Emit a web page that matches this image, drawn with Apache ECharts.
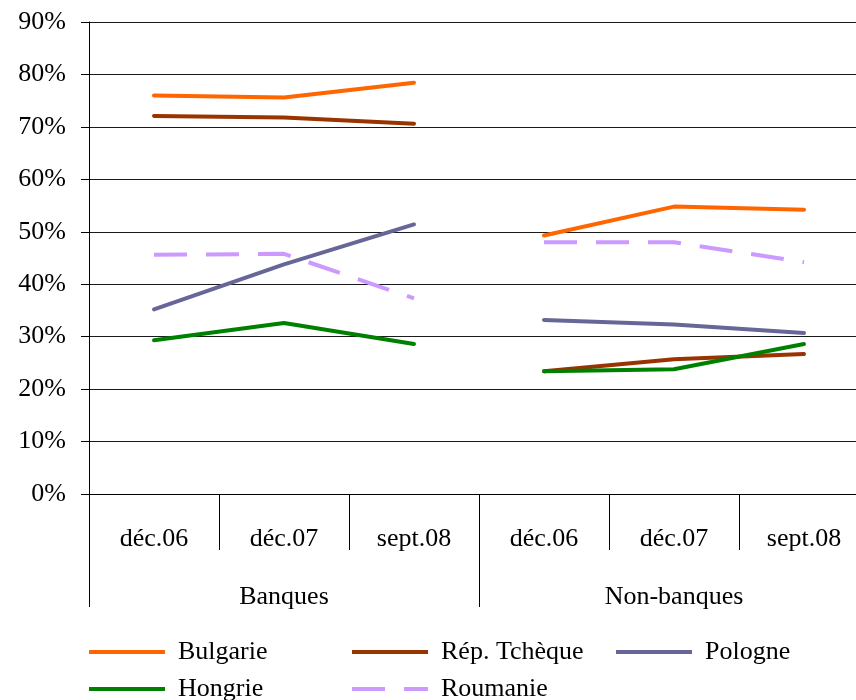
<!DOCTYPE html>
<html>
<head>
<meta charset="utf-8">
<script src="https://cdn.jsdelivr.net/npm/echarts@6/dist/echarts.min.js"></script>
<style>
  html, body { margin: 0; padding: 0; background: #fff; overflow: hidden; }
  #chart { width: 880px; height: 700px; }
</style>
</head>
<body>
<div id="chart"></div>
<script>
// Periods shown within each group, and the groups themselves
const periods = ['déc.06', 'déc.07', 'sept.08'];
const groups = ['Banques', 'Non-banques'];

// Share (%) per country: first three values = Banques, last three = Non-banques
const bulgarie = [76.0, 75.6, 78.4, 49.3, 54.8, 54.2];
const repTcheque = [72.1, 71.8, 70.6, 23.4, 25.7, 26.7];
const pologne = [35.2, 43.8, 51.4, 33.2, 32.3, 30.7];
const hongrie = [29.3, 32.6, 28.6, 23.4, 23.8, 28.6];
const roumanie = [45.6, 45.8, 37.3, 48.0, 48.0, 44.2];

const yTicks = [0, 10, 20, 30, 40, 50, 60, 70, 80, 90];

const countries = [
  { name: 'Bulgarie', values: bulgarie, color: '#FF6600', dashed: false },
  { name: 'Rép. Tchèque', values: repTcheque, color: '#993300', dashed: false },
  { name: 'Pologne', values: pologne, color: '#666699', dashed: false },
  { name: 'Hongrie', values: hongrie, color: '#008000', dashed: false },
  { name: 'Roumanie', values: roumanie, color: '#CC99FF', dashed: true }
];

const categories = groups.flatMap(() => periods);
const FONT = '"Liberation Serif", "Times New Roman", serif';
const FS = 26;

// Each country is drawn as two separate segments (one per group) so the line breaks between groups
const series = [];
countries.forEach(c => {
  groups.forEach((g, gi) => {
    const data = c.values.map((v, i) => (Math.floor(i / periods.length) === gi ? v : '-'));
    series.push({
      name: c.name,
      type: 'line',
      xAxisIndex: 0,
      data: data,
      symbol: 'none',
      connectNulls: false,
      silent: true,
      animation: false,
      lineStyle: {
        color: c.color,
        width: 4,
        type: c.dashed ? [33, 19] : 'solid',
        cap: c.dashed ? 'butt' : 'round',
        join: 'round'
      },
      itemStyle: { color: c.color }
    });
  });
});

const legendPos = [
  { left: 87, top: 639 },
  { left: 350, top: 639 },
  { left: 614, top: 639 },
  { left: 87, top: 676 },
  { left: 350, top: 676 }
];

const legends = countries.map((c, i) => ({
  data: [c.name],
  left: legendPos[i].left,
  top: legendPos[i].top,
  padding: 0,
  itemWidth: 76,
  itemHeight: 14,
  selectedMode: false,
  itemStyle: { opacity: 0 },
  lineStyle: { width: 4, cap: 'butt' },
  textStyle: {
    fontFamily: FONT,
    fontSize: FS,
    color: '#000',
    padding: [0, 0, 0, 8]
  }
}));

const chart = echarts.init(document.getElementById('chart'), null, { renderer: 'canvas' });
chart.setOption({
  animation: false,
  backgroundColor: '#fff',
  grid: { left: 89, right: 11, top: 22, bottom: 206 },
  legend: legends,
  xAxis: [
    {
      type: 'category',
      data: categories,
      position: 'bottom',
      boundaryGap: true,
      axisLine: { show: true, lineStyle: { color: '#000', width: 1 } },
      axisTick: { show: true, interval: 0, length: 56, lineStyle: { color: '#000', width: 1 } },
      axisLabel: { interval: 0, margin: 32, fontFamily: FONT, fontSize: FS, color: '#000' },
      splitLine: { show: false }
    },
    {
      type: 'category',
      data: groups,
      position: 'bottom',
      boundaryGap: true,
      axisLine: { show: false },
      axisTick: { show: true, interval: 0, length: 113, lineStyle: { color: '#000', width: 1 } },
      axisLabel: { interval: 0, margin: 90, fontFamily: FONT, fontSize: FS, color: '#000' },
      splitLine: { show: false }
    }
  ],
  yAxis: {
    type: 'value',
    min: yTicks[0],
    max: yTicks[yTicks.length - 1],
    interval: 10,
    axisLine: { show: true, lineStyle: { color: '#000', width: 1 } },
    axisTick: { show: true, length: 8, lineStyle: { color: '#000', width: 1 } },
    axisLabel: { margin: 23, fontFamily: FONT, fontSize: FS, color: '#000', formatter: '{value}%' },
    splitLine: { show: true, lineStyle: { color: '#1a1a1a', width: 1 } }
  },
  series: series
});
</script>
</body>
</html>
